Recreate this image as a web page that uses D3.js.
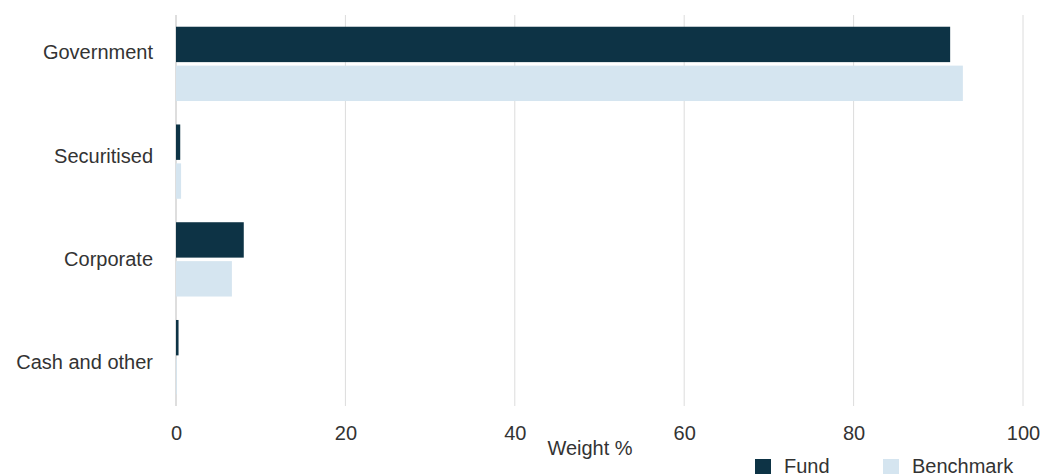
<!DOCTYPE html>
<html lang="en">
<head>
<meta charset="utf-8">
<title>Sector weights</title>
<script src="https://d3js.org/d3.v7.min.js"></script>
<style>
  html, body { margin: 0; padding: 0; background: #fff; }
  text { font-family: "Liberation Sans", Arial, Helvetica, sans-serif; fill: #333; }
</style>
</head>
<body>
<script>
// data
var categories = ["Government", "Securitised", "Corporate", "Cash and other"];
var seriesNames = ["Fund", "Benchmark"];
var fundValues = [91.4, 0.5, 8.0, 0.3];
var benchmarkValues = [92.9, 0.6, 6.6, 0.1];
var xTicks = [0, 20, 40, 60, 80, 100];
var colors = ["#0d3345", "#d5e5f0"];

var w = 1044, h = 474;
var plotLeft = 176, plotRight = 1023, plotTop = 15, plotBottom = 406;

var svg = d3.select("body").append("svg")
  .attr("width", w)
  .attr("height", h);

var x = d3.scaleLinear().domain([0, 100]).range([plotLeft, plotRight]);

var y0 = d3.scaleBand()
  .domain(categories)
  .range([plotTop, plotBottom])
  .paddingInner(0.24)
  .paddingOuter(0.12);

var y1 = d3.scaleBand()
  .domain(seriesNames)
  .range([0, y0.bandwidth()])
  .paddingInner(0.09);

// label positions (they sit a bit off the band centres in the original)
var yLabel = d3.scalePoint().domain(categories).range([52, 362]);

// gridlines
svg.append("g")
  .selectAll("line")
  .data(xTicks.slice(1))
  .enter()
  .append("line")
  .attr("x1", function(d) { return x(d); })
  .attr("x2", function(d) { return x(d); })
  .attr("y1", plotTop)
  .attr("y2", plotBottom)
  .attr("stroke", "#dcdcdc")
  .attr("stroke-width", 1);

// zero line
svg.append("line")
  .attr("x1", x(0)).attr("x2", x(0))
  .attr("y1", plotTop).attr("y2", plotBottom)
  .attr("stroke", "#bdbdbd")
  .attr("stroke-width", 1);

var rows = categories.map(function(c, i) {
  return { cat: c, values: [fundValues[i], benchmarkValues[i]] };
});

var groups = svg.append("g")
  .selectAll("g")
  .data(rows)
  .enter()
  .append("g")
  .attr("transform", function(d) { return "translate(0," + y0(d.cat) + ")"; });

groups.selectAll("rect")
  .data(function(d) {
    return d.values.map(function(v, j) { return { name: seriesNames[j], value: v, j: j }; });
  })
  .enter()
  .append("rect")
  .attr("x", x(0))
  .attr("y", function(d) { return y1(d.name); })
  .attr("width", function(d) { return x(d.value) - x(0); })
  .attr("height", y1.bandwidth())
  .attr("fill", function(d) { return colors[d.j]; });

// category labels
svg.append("g")
  .selectAll("text")
  .data(categories)
  .enter()
  .append("text")
  .attr("x", 153)
  .attr("y", function(d) { return yLabel(d); })
  .attr("dy", "0.36em")
  .attr("text-anchor", "end")
  .attr("font-size", "20px")
  .text(function(d) { return d; });

// x axis tick labels
var xAxis = d3.axisBottom(x).tickValues(xTicks).tickSize(0).tickPadding(0);
var gx = svg.append("g")
  .attr("transform", "translate(0,426)")
  .call(xAxis);
gx.select(".domain").remove();
gx.selectAll("text")
  .attr("font-size", "20px")
  .attr("dy", "0.71em")
  .style("font-family", "Liberation Sans, Arial, sans-serif")
  .attr("fill", "#333");

svg.append("text")
  .attr("x", 590)
  .attr("y", 455)
  .attr("text-anchor", "middle")
  .attr("font-size", "20px")
  .text("Weight %");

// legend
var legendX = [755, 883];
var legend = svg.append("g")
  .selectAll("g")
  .data(seriesNames)
  .enter()
  .append("g")
  .attr("transform", function(d, i) { return "translate(" + legendX[i] + ",459)"; });

legend.append("rect")
  .attr("width", 16)
  .attr("height", 16)
  .attr("fill", function(d, i) { return colors[i]; });

legend.append("text")
  .attr("x", 29)
  .attr("y", 14)
  .attr("font-size", "20px")
  .text(function(d) { return d; });
</script>
</body>
</html>
